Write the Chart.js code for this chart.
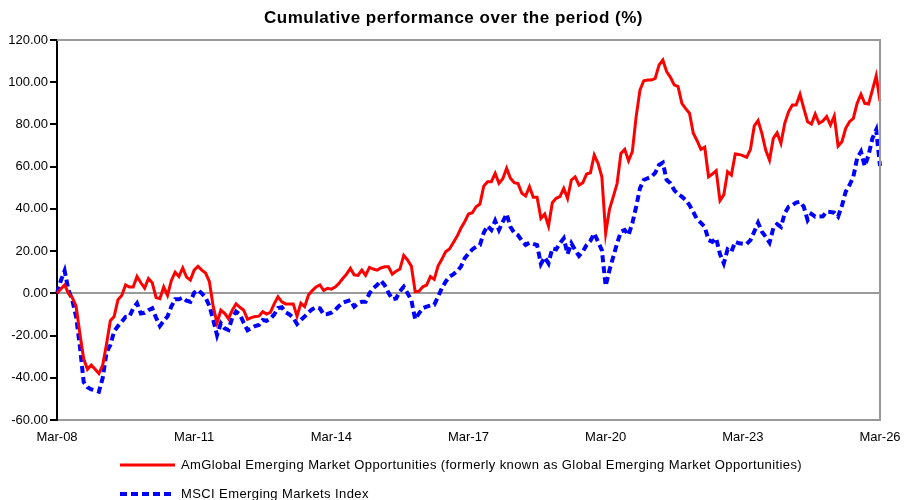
<!DOCTYPE html>
<html>
<head>
<meta charset="utf-8">
<script src="https://cdn.jsdelivr.net/npm/chart.js@4.4.1/dist/chart.umd.min.js"></script>
<style>
  html, body { margin: 0; padding: 0; background: #fff; }
</style>
</head>
<body>
<canvas id="perfChart" width="907" height="500"></canvas>
<script>
// monthly, Mar-08 .. Mar-26
const monthNames = ["Jan", "Feb", "Mar", "Apr", "May", "Jun", "Jul", "Aug", "Sep", "Oct", "Nov", "Dec"];
const months = [];
for (let i = 0; i <= 216; i++) {
  const m = (2 + i) % 12;
  const y = 8 + Math.floor((2 + i) / 12);
  months.push(monthNames[m] + "-" + String(y).padStart(2, "0"));
}

const chartTitle = "Cumulative performance over the period (%)";
const fundLabel = "AmGlobal Emerging Market Opportunities (formerly known as Global Emerging Market Opportunities)";
const indexLabel = "MSCI Emerging Markets Index";

const fundValues = [
  0, 2, 4, 0, -2, -6, -19, -31, -36, -34, -36, -38,
  -34, -24, -13, -11, -3, -1, 4, 3, 3, 8, 5, 2.5,
  7, 5, -2, -2.5, 3, -1, 6, 10, 8, 12, 7.7, 6.3,
  11, 12.8, 11, 9.6, 5.5, -6.3, -14, -8, -9.5, -12, -8, -5,
  -6.6, -8, -12.3, -11.5, -11, -10.8, -8.7, -9.8, -9, -5, -1.6, -4,
  -5, -5, -5, -10.8, -4.7, -6.3, -0.8, 1.3, 3, 4, 1.3, 2.4,
  2, 3, 4.7, 7, 9.1, 11.8, 8.7, 8.5, 11, 8.5, 12.3, 11.5,
  11, 12, 12.6, 12.6, 9.1, 10.5, 11.5, 18, 15.8, 12.9, 0.8, 1,
  3.1, 3.9, 7.9, 6.6, 12.9, 16.1, 19.7, 21, 24, 27, 30.8, 33.9,
  37.6, 38.2, 41, 42.3, 50.8, 52.9, 52.9, 56.8, 52.1, 54.3, 59.2, 54.5,
  52.4, 52, 47.4, 46.1, 50.5, 45.5, 45.5, 35.5, 37.6, 31.9, 42.9, 45,
  45.8, 49.7, 45, 53.7, 55.2, 51.3, 52.4, 56.5, 57.1, 65.5, 61.6, 55.2,
  28.4, 39.8, 45.8, 52, 66.3, 68.2, 62.8, 67.1, 83.7, 96.3, 100.7, 101,
  101, 101.8, 108.1, 110.5, 105, 102.3, 98.7, 97.9, 90, 87.5, 85.3, 75.8,
  72.3, 68.2, 69.2, 55.2, 56.5, 58.1, 43.9, 46.6, 57.6, 56, 66, 65.8,
  65.2, 64.4, 68.2, 79.3, 81.8, 75.8, 67.9, 63.1, 73.4, 76.1, 71.1, 80.5,
  86, 89.2, 89.2, 94.3, 87.6, 81.3, 80.2, 84.9, 80.5, 81.6, 83.7, 79.7,
  84, 69.8, 71.8, 78.2, 81.3, 82.9, 90, 94.3, 90, 89.7, 96.3, 103,
  91
];

const indexValues = [
  0, 6, 10.7, 1.6, -3.2, -11, -25, -42, -44.5, -45.5, -46, -46.6,
  -40, -28, -24.5, -18, -15.5, -13.5, -11.2, -11, -7.1, -4.7, -9.5, -9.2,
  -8, -7.1, -11.5, -15.5, -13, -11, -6.3, -2.8, -2.8, -2, -3.5, -4,
  0.3, 1.6, 0, -2, -6, -12.6, -19.8, -14.2, -16.6, -17.4, -11.5, -8.7,
  -10, -14, -17.5, -16.5, -15.5, -15, -12.6, -13, -12, -10, -7, -6.6,
  -9, -10, -11.5, -14.5, -12.6, -11, -9, -7.5, -6.6, -7.1, -10, -9.8,
  -9.2, -7.9, -6, -4.5, -3.8, -3.2, -6.3, -4.7, -4, -4, 0, 2.4,
  3.9, 6, 3.9, 0.3, -2.8, -2.4, 1, 3.1, 0, -3.2, -12.3, -9.5,
  -7.1, -6.3, -5.8, -5.5, -1.6, 2.4, 5.5, 7.9, 9, 10.5, 12.6, 16.6,
  18.9, 20.8, 22.1, 22.9, 28.7, 31.9, 30, 34.4, 30, 33.9, 37.6, 31.5,
  28.7, 27.5, 25, 22.9, 24, 23.4, 22.9, 13.9, 17.1, 14.2, 21.3, 20.8,
  23.7, 26.1, 18.6, 23.7, 20.5, 17.7, 19.7, 22.9, 24.9, 28.4, 24.4, 20.5,
  3.5, 11, 17.3, 23.7, 29.2, 30, 27.6, 33.2, 41, 49.7, 53.7, 54.5,
  55.2, 57.1, 60.8, 61.9, 53.7, 52.1, 48.9, 47, 45.8, 44.2, 41.8, 38.5,
  35, 33.4, 31.5, 25.2, 24.4, 26.1, 18.6, 14.2, 20.8, 19.7, 24.4, 23.7,
  23.5, 23.4, 25.2, 29.2, 33.4, 29.2, 26.8, 24, 30.8, 32.8, 31.5, 37.9,
  41, 41.8, 43, 43.4, 41, 34.7, 37.6, 36.3, 36.4, 36.5, 38.7, 38.5,
  38.2, 36.3, 41.4, 48.1, 51.3, 55.2, 64, 67.1, 60.3, 65.5, 73.4, 77.4,
  60.3
];

const FONT = 'Arial, "Liberation Sans", sans-serif';
const AXIS_GREY = "#9a9a9a";

// title centred on the whole canvas + top/right edges of the plot box
const frame = {
  id: "frame",
  afterDraw(chart) {
    const { ctx, chartArea: a } = chart;
    ctx.save();
    ctx.strokeStyle = AXIS_GREY;
    ctx.lineWidth = 2;
    ctx.beginPath();
    ctx.moveTo(a.left, a.top);
    ctx.lineTo(a.right, a.top);
    ctx.lineTo(a.right, a.bottom);
    ctx.stroke();

    ctx.fillStyle = "#000";
    ctx.font = "bold 17px " + FONT;
    ctx.letterSpacing = "0.5px";
    ctx.textAlign = "center";
    ctx.textBaseline = "middle";
    ctx.fillText(chartTitle, chart.width / 2, 18);
    ctx.restore();
  },
};

// legend stacked under the axis, one series per row
const legendBelow = {
  id: "legendBelow",
  afterDraw(chart) {
    const { ctx } = chart;
    ctx.save();
    chart.data.datasets.forEach((ds, i) => {
      const y = 465 + i * 29;
      ctx.beginPath();
      ctx.strokeStyle = ds.borderColor;
      ctx.lineWidth = ds.borderWidth;
      ctx.setLineDash(ds.borderDash || []);
      ctx.moveTo(120, y);
      ctx.lineTo(175, y);
      ctx.stroke();
      ctx.setLineDash([]);
      ctx.fillStyle = "#000";
      ctx.font = "13px " + FONT;
      ctx.letterSpacing = "0.4px";
      ctx.textBaseline = "middle";
      ctx.fillText(ds.label, 181, y);
    });
    ctx.restore();
  },
};

new Chart(document.getElementById("perfChart"), {
  type: "line",
  data: {
    labels: months,
    datasets: [
      {
        label: fundLabel,
        data: fundValues,
        borderColor: "#ff0000",
        borderWidth: 3,
        pointRadius: 0,
        tension: 0,
      },
      {
        label: indexLabel,
        data: indexValues,
        borderColor: "#0000ff",
        borderWidth: 4,
        borderDash: [7, 4],
        pointRadius: 0,
        tension: 0,
      },
    ],
  },
  options: {
    responsive: false,
    animation: false,
    layout: {
      padding: { top: 40, right: 27, bottom: 56, left: 0 },
    },
    plugins: {
      legend: { display: false },
      tooltip: { enabled: false },
      title: { display: false },
    },
    scales: {
      x: {
        offset: false,
        grid: { display: false, drawTicks: false },
        border: { color: AXIS_GREY, width: 2 },
        ticks: {
          autoSkip: false,
          maxRotation: 0,
          padding: 10,
          color: "#000",
          font: { family: FONT, size: 13 },
          callback: function (val, index) {
            return index % 36 === 0 ? this.getLabelForValue(val) : "";
          },
        },
        afterFit: (scale) => {
          scale.height = 24;
          scale.paddingRight = 20;
        },
      },
      y: {
        min: -60,
        max: 120,
        grid: {
          color: (c) => (c.tick && c.tick.value === 0 ? AXIS_GREY : "transparent"),
          lineWidth: 2,
          tickColor: "#000",
          tickLength: 7,
        },
        border: { color: "#000", width: 2 },
        ticks: {
          stepSize: 20,
          padding: 2,
          color: "#000",
          font: { family: FONT, size: 13 },
          callback: (v) => v.toFixed(2),
        },
        afterFit: (scale) => {
          scale.width = 57;
        },
      },
    },
  },
  plugins: [frame, legendBelow],
});
</script>
</body>
</html>
